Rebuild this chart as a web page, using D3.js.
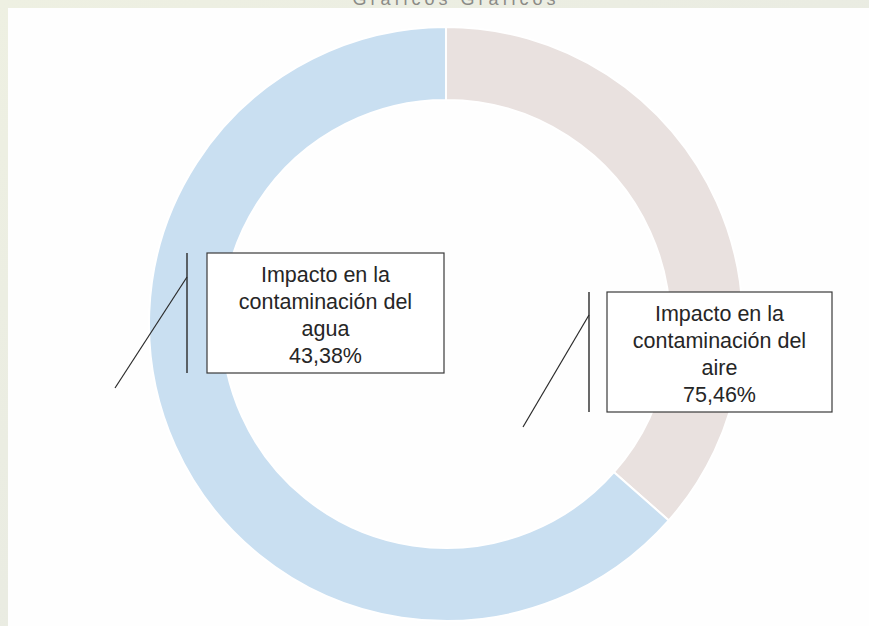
<!DOCTYPE html>
<html><head><meta charset="utf-8">
<script src="https://cdn.jsdelivr.net/npm/d3@7"></script>
<style>body{margin:0;padding:0;overflow:hidden;background:#fff}</style>
</head><body>
<svg id="c" width="869" height="626"></svg>
<script>
// Data
const categories = ["Impacto en la contaminación del agua", "Impacto en la contaminación del aire"];
const values = [43.38, 75.46];
const valueLabels = ["43,38%", "75,46%"];
const labelLines = [["Impacto en la", "contaminación del", "agua"], ["Impacto en la", "contaminación del", "aire"]];
const colors = ["#e9e1df", "#c9dff1"];
const titleText = "Gráficos Gráficos";

const svg = d3.select("#c");
// textured frame
const grad = svg.append("defs").append("linearGradient").attr("id","fr").attr("x1","0").attr("x2","1").attr("y1","0").attr("y2","1");
grad.append("stop").attr("offset","0").attr("stop-color","#eef0e2");
grad.append("stop").attr("offset","0.6").attr("stop-color","#e9ebe2");
grad.append("stop").attr("offset","1").attr("stop-color","#e4e3e6");
svg.append("rect").attr("width",869).attr("height",626).attr("fill","url(#fr)");
svg.append("text").attr("x",456).attr("y",5).attr("text-anchor","middle")
  .attr("font-family","Liberation Sans, Arial, sans-serif").attr("font-size",18)
  .attr("letter-spacing",4).attr("fill","#8a8a86").text(titleText);
svg.append("rect").attr("x",8).attr("y",8).attr("width",861).attr("height",618).attr("fill","#fefefe");

const cx = 446, cy = 324, rOuter = 297, rInner = 224;
const g = svg.append("g").attr("transform",`translate(${cx},${cy})`);
const pie = d3.pie().sort(null).value(d => d)(values);
const arc = d3.arc().innerRadius(rInner).outerRadius(rOuter);
g.selectAll("path").data(pie).join("path")
  .attr("d", arc).attr("fill",(d,i)=>colors[i]).attr("stroke","#fff").attr("stroke-width",2);

// labels (manually placed boxes, as in the source chart)
const boxes = [
  {x:207, y:253, w:237, h:120, lx:187, ty:277, ex:115, ey:388},
  {x:607, y:292, w:225, h:120, lx:589, ty:315, ex:523, ey:427}
];
const font = "Liberation Sans, Arial, sans-serif";
boxes.forEach((b,i)=>{
  const lg = svg.append("g");
  lg.append("rect").attr("x",b.x).attr("y",b.y).attr("width",b.w).attr("height",b.h)
    .attr("fill","#fff").attr("stroke","#3a3a3a").attr("stroke-width",1.2);
  lg.append("line").attr("x1",b.lx).attr("x2",b.lx).attr("y1",b.y).attr("y2",b.y+b.h)
    .attr("stroke","#2a2a2a").attr("stroke-width",1.4);
  lg.append("line").attr("x1",b.lx).attr("y1",b.ty).attr("x2",b.ex).attr("y2",b.ey)
    .attr("stroke","#2a2a2a").attr("stroke-width",1.2);
  const lines = labelLines[i].concat([valueLabels[i]]);
  lg.selectAll("text.l").data(lines).join("text")
    .attr("x", b.x + b.w/2).attr("y",(d,k)=>b.y + 29 + k*27)
    .attr("text-anchor","middle").attr("font-family",font).attr("font-size",21.5)
    .attr("fill","#262626").text(d=>d);
});
</script>
</body></html>
